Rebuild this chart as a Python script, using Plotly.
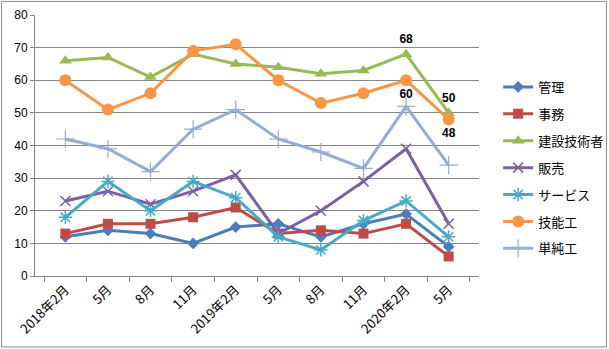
import plotly.graph_objects as go

# Quarterly survey periods (category axis)
periods = ["2018年2月", "5月", "8月", "11月", "2019年2月", "5月 ", "8月 ", "11月 ", "2020年2月", "5月  "]
period_labels = ["2018年2月", "5月", "8月", "11月", "2019年2月", "5月", "8月", "11月", "2020年2月", "5月"]

kanri = [12, 14, 13, 10, 15, 16, 12, 16, 19, 9]
jimu = [13, 16, 16, 18, 21, 13, 14, 13, 16, 6]
kensetsu = [66, 67, 61, 68, 65, 64, 62, 63, 68, 50]
hanbai = [23, 26, 22, 26, 31, 13, 20, 29, 39, 16]
service = [18, 29, 20, 29, 24, 12, 8, 17, 23, 12]
ginou = [60, 51, 56, 69, 71, 60, 53, 56, 60, 48]
tanjun = [42, 39, 32, 45, 51, 42, 38, 33, 52, 34]

y_ticks = [0, 10, 20, 30, 40, 50, 60, 70, 80]

series = [
    ("管理", kanri, "#4A7EBB", "diamond", 9, 0, None),
    ("事務", jimu, "#BE4B48", "square", 10, 0, None),
    ("建設技術者", kensetsu, "#98B954", "triangle-up", 11, 0, {8: "top center", 9: "top center"}),
    ("販売", hanbai, "#7D60A0", "x-thin-open", 10, 1.5, None),
    ("サービス", service, "#46AAC5", "asterisk-open", 11, 1.5, None),
    ("技能工", ginou, "#F79646", "circle", 12, 0, {8: "bottom center", 9: "bottom center"}),
    ("単純工", tanjun, "#95ACD4", "cross-thin-open", 13, 1.2, None),
]

fig = go.Figure()
for i, (name, vals, color, symbol, size, mlw, labels) in enumerate(series):
    text = [""] * len(vals)
    pos = ["top center"] * len(vals)
    if labels:
        for k, p in labels.items():
            text[k] = f"<b>{vals[k]}</b>"
            pos[k] = p
    fig.add_trace(go.Scatter(
        x=periods, y=vals, name=name,
        mode="lines+markers+text" if labels else "lines+markers",
        text=text, textposition=pos,
        textfont=dict(size=12, color="#000000", family="Liberation Sans, Arial"),
        line=dict(color=color, width=3),
        marker=dict(symbol=symbol, size=size, color=color,
                    line=dict(color=color, width=mlw)),
        legendgroup=f"g{i}",
        cliponaxis=False,
    ))

fig.update_layout(
    width=609, height=349,
    margin=dict(l=35, r=130, t=15, b=73, autoexpand=False),
    paper_bgcolor="white", plot_bgcolor="white",
    font=dict(family="Noto Sans CJK JP, sans-serif", size=12, color="#000000"),
    showlegend=True,
    legend=dict(
        xref="container", yref="container",
        x=0.818, y=1 - 72 / 349, xanchor="left", yanchor="top",
        font=dict(size=13, family="Noto Sans CJK JP, sans-serif"),
        tracegroupgap=7, itemwidth=30, maxheight=320,
        bgcolor="rgba(0,0,0,0)",
    ),
    shapes=[dict(
        type="rect", xref="paper", yref="paper",
        x0=-0.0755, x1=1.287, y0=-0.272, y1=1.052,
        line=dict(color="#8C8C8C", width=1),
    )],
)

fig.update_xaxes(
    type="category", automargin=False,
    tickvals=periods, ticktext=period_labels,
    tickangle=-45,
    tickson="boundaries", ticks="outside", ticklen=5, tickcolor="#868686",
    showline=True, linecolor="#868686", linewidth=1,
    showgrid=False,
    tickfont=dict(size=13, family="Noto Sans CJK JP, sans-serif"),
)
fig.update_yaxes(
    range=[0, 80], tickvals=y_ticks, automargin=False,
    ticks="outside", ticklen=4, tickcolor="#868686",
    showline=True, linecolor="#868686", linewidth=1,
    showgrid=True, gridcolor="#868686", gridwidth=1,
    zeroline=False,
    tickfont=dict(size=12, family="Liberation Sans, Arial"),
)

fig.write_html("out.html")
